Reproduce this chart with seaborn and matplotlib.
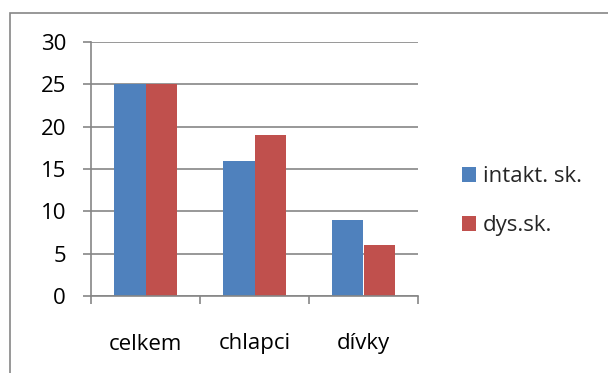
import matplotlib
matplotlib.use("Agg")
import matplotlib.pyplot as plt
from matplotlib.patches import Rectangle
import seaborn as sns
import pandas as pd

categories = ["celkem", "chlapci", "dívky"]
series_names = ["intakt. sk.", "dys.sk."]
intakt_values = [25, 16, 9]
dys_values = [25, 19, 6]
y_ticks = [0, 5, 10, 15, 20, 25, 30]

colors = ["#4F81BD", "#C0504D"]
grid_gray = "#868686"
fs = 16

df = pd.DataFrame({
    "kategorie": categories * 2,
    "skupina": [series_names[0]] * len(categories) + [series_names[1]] * len(categories),
    "hodnota": intakt_values + dys_values,
})

sns.set_theme(style="white")
plt.rcParams["font.family"] = ["Open Sans", "DejaVu Sans"]

W, H = 608, 373
fig = plt.figure(figsize=(W / 100, H / 100), dpi=100)
ax = fig.add_axes([91 / W, 1 - 296 / H, (418 - 91) / W, (296 - 42) / H])

sns.barplot(data=df, x="kategorie", y="hodnota", hue="skupina",
            palette=colors, width=0.57, gap=0, saturation=1,
            edgecolor="none", linewidth=0, ax=ax, legend=True)

ax.set_ylim(0, 30)
ax.set_xlim(-0.5, len(categories) - 0.5)
ax.set_yticks(y_ticks)
ax.set_yticklabels([str(v) for v in y_ticks])
ax.set_xlabel("")
ax.set_ylabel("")

ax.yaxis.grid(True, color=grid_gray, linewidth=1.2)
ax.set_axisbelow(True)
for s in ["top", "right"]:
    ax.spines[s].set_visible(False)
for s in ["left", "bottom"]:
    ax.spines[s].set_color(grid_gray)
    ax.spines[s].set_linewidth(1.2)

ax.tick_params(axis="y", which="major", left=True, length=6, width=1.2,
               color=grid_gray, pad=12, labelsize=fs, labelcolor="black")
ax.tick_params(axis="x", which="major", bottom=False, pad=21,
               labelsize=fs, labelcolor="black")
ax.set_xticks([i - 0.5 for i in range(len(categories) + 1)], minor=True)
ax.tick_params(axis="x", which="minor", bottom=True, length=6, width=1.2,
               color=grid_gray)

handles, labels = ax.get_legend_handles_labels()
ax.get_legend().remove()
fig.legend(handles, labels, loc="upper left",
           bbox_to_anchor=(453 / W, 1 - 157 / H), frameon=False,
           fontsize=fs, handlelength=0.65, handleheight=0.65,
           handletextpad=0.3, labelspacing=1.27, borderaxespad=0)

fig.add_artist(Rectangle((10 / W, -0.1), 1.2, 1 - 13 / H + 0.1,
                         transform=fig.transFigure, fill=False,
                         edgecolor=grid_gray, linewidth=1.2))

fig.savefig("out.png", dpi=100, facecolor="white")
